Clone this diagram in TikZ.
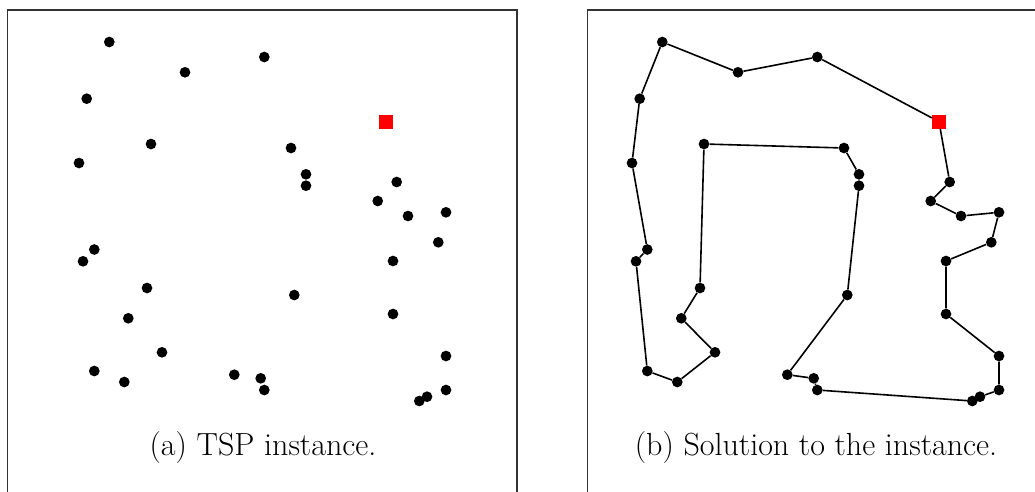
\documentclass[tikz,border=0pt]{standalone}
\usepackage{tikz}
\usetikzlibrary{positioning}

\begin{document}
\begin{tikzpicture}[x=1pt, y=-1pt,
    city/.style={circle, fill=black, inner sep=0pt, minimum size=10.7pt},
    depot/.style={rectangle, fill=red, inner sep=0pt, minimum size=14pt},
    tour/.style={line width=1.6pt},
    frame/.style={draw=black!80, line width=1.2pt},
    caption/.style={anchor=base, font=\fontsize{32}{38}\selectfont}]

    \useasboundingbox (0,0) rectangle (1035,491);
    \clip (0,0) rectangle (1035,491);

    % Frames
    \draw[frame] (7.5,10) rectangle (517,520);
    \draw[frame] (587.5,10) rectangle (1045,520);

    % Cities, left and right panel
    \foreach \i/\x/\y in {1/109.3/42, 2/264.3/57, 3/185/72.3, 4/86.7/98.7,
        5/151/144, 6/291/148, 7/79/163, 8/306/174.3, 9/306/185.7,
        10/396.7/182, 11/377.7/201, 12/408/216, 13/446/212.3, 14/438.3/242.3,
        15/94.3/249.5, 16/83/261.3, 17/393/261, 18/147/288, 19/294.3/295,
        20/128.3/318.3, 21/393/314, 22/162/352.3, 23/446/356, 24/94.3/371,
        25/124.3/382, 26/234.3/374.7, 27/260.7/378.3, 28/264.3/390,
        29/446/390, 30/427/396.7, 31/419.3/401} {
        \node[city] (a\i) at (\x,\y) {};
        \node[city] (b\i) at (\x+553,\y) {};
    }

    % Depot
    \node[depot] (adepot) at (386,121.7) {};
    \node[depot] (bdepot) at (939,121.7) {};

    % Tour
    \draw[tour] (bdepot) -- (b10) -- (b11) -- (b12) -- (b13) -- (b14) -- (b17)
        -- (b21) -- (b23) -- (b29) -- (b30) -- (b31) -- (b28) -- (b27) -- (b26)
        -- (b19) -- (b9) -- (b8) -- (b6) -- (b5) -- (b18) -- (b20) -- (b22)
        -- (b25) -- (b24) -- (b16) -- (b15) -- (b7) -- (b4) -- (b1) -- (b3)
        -- (b2) -- (bdepot);

    % Captions
    \node[caption] (capa) at (263,455) {(a) TSP instance.};
    \node[caption] (capb) at (816,455) {(b) Solution to the instance.};
\end{tikzpicture}
\end{document}
